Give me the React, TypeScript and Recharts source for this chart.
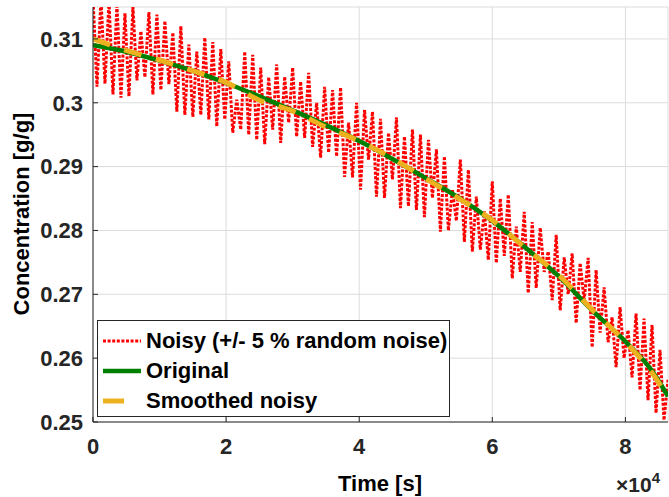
import { CartesianGrid, Line, LineChart, XAxis, YAxis } from 'recharts';

const FONT = '"Liberation Sans", Arial, Helvetica, sans-serif';
const AXIS_COLOR = '#262626';

// noisy samples, one every 600 s
const noisyStep = 600;
const noisyValues = [
  0.3165, 0.3025, 0.3165, 0.303, 0.316, 0.3013, 0.3155, 0.3008, 0.314, 0.301,
  0.315, 0.3035, 0.3112, 0.304, 0.3142, 0.3013, 0.3138, 0.302, 0.3128, 0.3029,
  0.311, 0.2986, 0.312, 0.2981, 0.3091, 0.2978, 0.308, 0.2981, 0.3102, 0.2974,
  0.3095, 0.2963, 0.3084, 0.2974, 0.3065, 0.2953, 0.3005, 0.2958, 0.308, 0.295,
  0.3075, 0.2942, 0.3055, 0.2935, 0.304, 0.2958, 0.306, 0.2937, 0.3041, 0.2969,
  0.3055, 0.2947, 0.3033, 0.2945, 0.3047, 0.2931, 0.3, 0.2914, 0.3025, 0.2922,
  0.302, 0.2916, 0.3024, 0.2884, 0.2969, 0.2883, 0.3, 0.2864, 0.2989, 0.2911,
  0.2986, 0.2853, 0.2975, 0.2851, 0.2953, 0.288, 0.2977, 0.2835, 0.2947, 0.2838,
  0.2958, 0.2832, 0.295, 0.2821, 0.2942, 0.2851, 0.2927, 0.2798, 0.2916, 0.28,
  0.2864, 0.2815, 0.2911, 0.2782, 0.2895, 0.2767, 0.2853, 0.277, 0.283, 0.2754,
  0.2877, 0.2749, 0.285, 0.276, 0.2856, 0.2725, 0.2806, 0.2735, 0.2829, 0.2702,
  0.2813, 0.271, 0.2804, 0.2735, 0.2767, 0.2691, 0.2793, 0.2675, 0.2758, 0.27,
  0.2764, 0.2655, 0.2749, 0.269, 0.2757, 0.2617, 0.2738, 0.264, 0.2711, 0.2625,
  0.2664, 0.2586, 0.268, 0.26, 0.2644, 0.257, 0.267, 0.255, 0.2662, 0.2534,
  0.2652, 0.2514, 0.2613, 0.2503, 0.2566,
];

const curveTimes = [
  0, 5000, 10000, 15000, 20000, 25000, 30000, 35000, 40000, 45000, 50000,
  55000, 60000, 65000, 70000, 75000, 80000, 84000, 86400,
];
const originalValues = [
  0.309, 0.308, 0.3066, 0.305, 0.3031, 0.301, 0.2988, 0.2965, 0.294, 0.2912,
  0.2882, 0.2851, 0.2815, 0.2773, 0.2728, 0.2675, 0.2626, 0.258, 0.254,
];
const smoothedValues = [
  0.31, 0.3082, 0.3067, 0.305, 0.3032, 0.3004, 0.2987, 0.2962, 0.294, 0.2913,
  0.2881, 0.285, 0.2816, 0.2772, 0.273, 0.2676, 0.2625, 0.2577, 0.2538,
];

const timeTicks = [0, 20000, 40000, 60000, 80000];
const concentrationTicks = [0.25, 0.26, 0.27, 0.28, 0.29, 0.3, 0.31];

const noisyData = noisyValues.map((v, i) => ({ t: i * noisyStep, v }));
const originalData = curveTimes.map((t, i) => ({ t, v: originalValues[i] }));
const smoothedData = curveTimes.map((t, i) => ({ t, v: smoothedValues[i] }));

const tickStyle = { fill: AXIS_COLOR, fontSize: 22, fontWeight: 'bold', fontFamily: FONT };
const axisLine = { stroke: AXIS_COLOR, strokeWidth: 1 };

function LegendRow({ label, children }: { label: string; children: React.ReactNode }) {
  return (
    <div style={{ height: 30, display: 'flex', alignItems: 'center' }}>
      <svg width={38} height={10} style={{ marginLeft: 5, marginRight: 5 }}>
        {children}
      </svg>
      <span>{label}</span>
    </div>
  );
}

export default function App() {
  return (
    <div style={{ position: 'absolute', left: 0, top: 0, width: 669, height: 497, background: '#fff' }}>
      <LineChart
        width={669}
        height={497}
        margin={{ top: 7, right: 1, bottom: 0, left: 0 }}
      >
        <CartesianGrid stroke="#dcdcdc" strokeWidth={1} />
        <XAxis
          type="number"
          dataKey="t"
          domain={[0, 86400]}
          ticks={timeTicks}
          allowDataOverflow
          height={75}
          tickSize={-5}
          tickMargin={21}
          tick={tickStyle}
          tickLine={axisLine}
          axisLine={axisLine}
          tickFormatter={(v: number) => String(v / 10000)}
        />
        <XAxis
          xAxisId="top"
          orientation="top"
          type="number"
          domain={[0, 86400]}
          ticks={timeTicks}
          allowDataOverflow
          height={0}
          tickSize={-5}
          tick={false}
          tickLine={axisLine}
          axisLine={axisLine}
        />
        <YAxis
          type="number"
          domain={[0.25, 0.315]}
          ticks={concentrationTicks}
          allowDataOverflow
          width={93}
          tickSize={-5}
          tickMargin={15}
          tick={tickStyle}
          tickLine={axisLine}
          axisLine={axisLine}
          tickFormatter={(v: number) => String(Number(v.toFixed(2)))}
        />
        <YAxis
          yAxisId="right"
          orientation="right"
          type="number"
          domain={[0.25, 0.315]}
          ticks={concentrationTicks}
          allowDataOverflow
          width={0}
          tickSize={-5}
          tick={false}
          tickLine={axisLine}
          axisLine={axisLine}
        />
        <Line
          data={noisyData}
          dataKey="v"
          type="linear"
          stroke="#ff0000"
          strokeWidth={3}
          strokeDasharray="3 1.6"
          dot={false}
          isAnimationActive={false}
        />
        <Line
          data={originalData}
          dataKey="v"
          type="monotone"
          stroke="#008000"
          strokeWidth={4.5}
          dot={false}
          isAnimationActive={false}
        />
        <Line
          data={smoothedData}
          dataKey="v"
          type="monotone"
          stroke="#edb120"
          strokeWidth={5}
          strokeDasharray="18 15"
          dot={false}
          isAnimationActive={false}
        />
      </LineChart>

      <div style={{ position: 'absolute', left: 22, top: 214, width: 0, height: 0 }}>
        <div
          style={{
            position: 'absolute',
            left: 0,
            top: 0,
            transform: 'translate(-50%, -50%) rotate(-90deg)',
            whiteSpace: 'nowrap',
            fontFamily: FONT,
            fontWeight: 'bold',
            fontSize: 22,
            color: '#000',
          }}
        >
          Concentration [g/g]
        </div>
      </div>

      <div
        style={{
          position: 'absolute',
          left: 380,
          top: 484,
          transform: 'translate(-50%, -50%)',
          whiteSpace: 'nowrap',
          fontFamily: FONT,
          fontWeight: 'bold',
          fontSize: 22,
          color: '#000',
        }}
      >
        Time [s]
      </div>

      <div
        style={{
          position: 'absolute',
          left: 616,
          top: 475,
          height: 20,
          whiteSpace: 'nowrap',
          fontFamily: FONT,
          fontWeight: 'bold',
          fontSize: 21,
          lineHeight: '20px',
          color: AXIS_COLOR,
        }}
      >
        ×10
        <span style={{ fontSize: 15, lineHeight: 0, position: 'relative', top: -9 }}>4</span>
      </div>

      <div
        style={{
          position: 'absolute',
          left: 97,
          top: 320,
          width: 353,
          height: 97,
          boxSizing: 'border-box',
          border: `1px solid ${AXIS_COLOR}`,
          background: '#fff',
          paddingTop: 5,
          fontFamily: FONT,
          fontWeight: 'bold',
          fontSize: 22,
          color: '#000',
        }}
      >
        <LegendRow label="Noisy (+/- 5 % random noise)">
          <line x1={0} y1={5} x2={38} y2={5} stroke="#ff0000" strokeWidth={3} strokeDasharray="3 1.6" />
        </LegendRow>
        <LegendRow label="Original">
          <line x1={0} y1={5} x2={38} y2={5} stroke="#008000" strokeWidth={4.5} />
        </LegendRow>
        <LegendRow label="Smoothed noisy">
          <line x1={0} y1={5} x2={21} y2={5} stroke="#edb120" strokeWidth={5} />
        </LegendRow>
      </div>
    </div>
  );
}
